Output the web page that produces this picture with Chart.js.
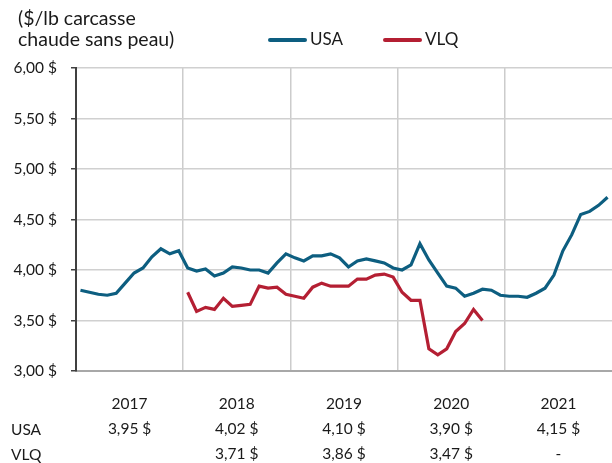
<!DOCTYPE html>
<html>
<head>
<meta charset="utf-8">
<script src="https://cdn.jsdelivr.net/npm/chart.js@4"></script>
<style>
  body { margin: 0; background: #fff; }
  #wrap { position: relative; width: 612px; height: 463px; font-family: Lato, "Noto Sans", sans-serif; color: #1a1a1a; }
  #unit { position: absolute; left: 18px; top: 7px; font-size: 19.5px; line-height: 21px; }
  .leg { position: absolute; top: 29px; font-size: 17px; line-height: 20px; }
  .leg i { display: inline-block; width: 39px; height: 4px; border-radius: 2px; vertical-align: middle; margin-right: 3px; position: relative; top: -1px; }
</style>
</head>
<body>
<div id="wrap">
  <canvas id="priceChart"></canvas>
  <div id="unit">($/lb carcasse<br>chaude sans peau)</div>
  <div class="leg" style="left:268px"><i style="background:#0d5e80"></i>USA</div>
  <div class="leg" style="left:383px"><i style="background:#b41f33"></i>VLQ</div>
</div>
<script>
const years = ["2017", "2018", "2019", "2020", "2021"];
const usaAvg = ["3,95 $", "4,02 $", "4,10 $", "3,90 $", "4,15 $"];
const vlqAvg = ["", "3,71 $", "3,86 $", "3,47 $", "-"];
const rowHeads = ["USA", "VLQ"];
const yTicks = [3, 3.5, 4, 4.5, 5, 5.5, 6];

// monthly prices, jan 2017 -> dec 2021
const usa = [
    3.80, 3.78, 3.76, 3.75, 3.77, 3.87, 3.97, 4.02, 4.13, 4.21, 4.16, 4.19,
    4.02, 3.99, 4.01, 3.94, 3.97, 4.03, 4.02, 4.00, 4.00, 3.97, 4.07, 4.16,
    4.12, 4.09, 4.14, 4.14, 4.16, 4.12, 4.03, 4.09, 4.11, 4.09, 4.07, 4.02,
    4.00, 4.05, 4.26, 4.10, 3.97, 3.84, 3.82, 3.74, 3.77, 3.81, 3.80, 3.75,
    3.74, 3.74, 3.73, 3.77, 3.82, 3.95, 4.19, 4.35, 4.55, 4.58, 4.64, 4.72
];

const vlq = [
    null, null, null, null, null, null, null, null, null, null, null, null,
    3.78, 3.59, 3.63, 3.61, 3.72, 3.64, 3.65, 3.66, 3.84, 3.82, 3.83, 3.76,
    3.74, 3.72, 3.83, 3.87, 3.84, 3.84, 3.84, 3.91, 3.91, 3.95, 3.96, 3.93,
    3.78, 3.70, 3.70, 3.22, 3.16, 3.22, 3.39, 3.47, 3.61, 3.50, null, null,
    null, null, null, null, null, null, null, null, null, null, null, null
];

const toPoints = arr => arr.map((v, i) => ({ x: i + 0.5, y: v }));

const tickFont = { family: "Lato, 'Noto Sans', sans-serif", size: 15.5 };

// row headers of the little table under the x axis
const rowHeadPlugin = {
    id: "rowHeads",
    afterDraw(chart) {
        const c = chart.ctx;
        const base = chart.chartArea.bottom;
        c.save();
        c.font = "15.5px Lato, 'Noto Sans', sans-serif";
        c.fillStyle = "#1a1a1a";
        c.textBaseline = "alphabetic";
        rowHeads.forEach((t, k) => c.fillText(t, 11, base + 64 + k * 25));
        c.restore();
    }
};

new Chart(document.getElementById("priceChart"), {
    type: "line",
    data: {
        datasets: [
            {
                label: "USA",
                data: toPoints(usa),
                borderColor: "#0d5e80",
                borderWidth: 3.2,
                pointRadius: 0,
                tension: 0
            },
            {
                label: "VLQ",
                data: toPoints(vlq),
                borderColor: "#b41f33",
                borderWidth: 3.2,
                pointRadius: 0,
                tension: 0
            }
        ]
    },
    options: {
        responsive: true,
        maintainAspectRatio: false,
        animation: false,
        layout: { padding: { top: 68, right: 0, bottom: 0, left: 0 } },
        plugins: {
            legend: { display: false },
            tooltip: { enabled: false }
        },
        scales: {
            x: {
                type: "linear",
                min: 0,
                max: 60,
                afterBuildTicks: s => {
                    s.ticks = [0, 6, 12, 18, 24, 30, 36, 42, 48, 54, 60].map(v => ({ value: v }));
                },
                afterFit: s => {
                    s.height = 92;
                    s.paddingLeft = 0;
                    s.paddingRight = 0;
                },
                grid: {
                    drawTicks: false,
                    lineWidth: 1.5,
                    color: c => {
                        const v = c.tick ? c.tick.value : 0;
                        return (v % 12 === 0 && v > 0 && v < 60) ? "#cccccc" : "rgba(0,0,0,0)";
                    }
                },
                border: { color: "#a8a8a8", width: 2 },
                ticks: {
                    autoSkip: false,
                    maxRotation: 0,
                    padding: 20,
                    color: "#1a1a1a",
                    font: { ...tickFont, lineHeight: 25 / 15.5 },
                    callback: v => {
                        if (v % 12 !== 6) return "";
                        const k = (v - 6) / 12;
                        return [years[k], usaAvg[k], vlqAvg[k]];
                    }
                }
            },
            y: {
                min: 3,
                max: 6,
                afterBuildTicks: s => {
                    s.ticks = yTicks.map(v => ({ value: v }));
                },
                afterFit: s => { s.width = 76; },
                grid: {
                    color: "#d0d0d0",
                    lineWidth: 1.5,
                    tickLength: 5,
                    tickColor: "#404040"
                },
                border: { color: "#404040", width: 2 },
                ticks: {
                    padding: 14,
                    color: "#1a1a1a",
                    font: tickFont,
                    callback: v => v.toFixed(2).replace(".", ",") + " $"
                }
            }
        }
    },
    plugins: [rowHeadPlugin]
});
</script>
</body>
</html>
